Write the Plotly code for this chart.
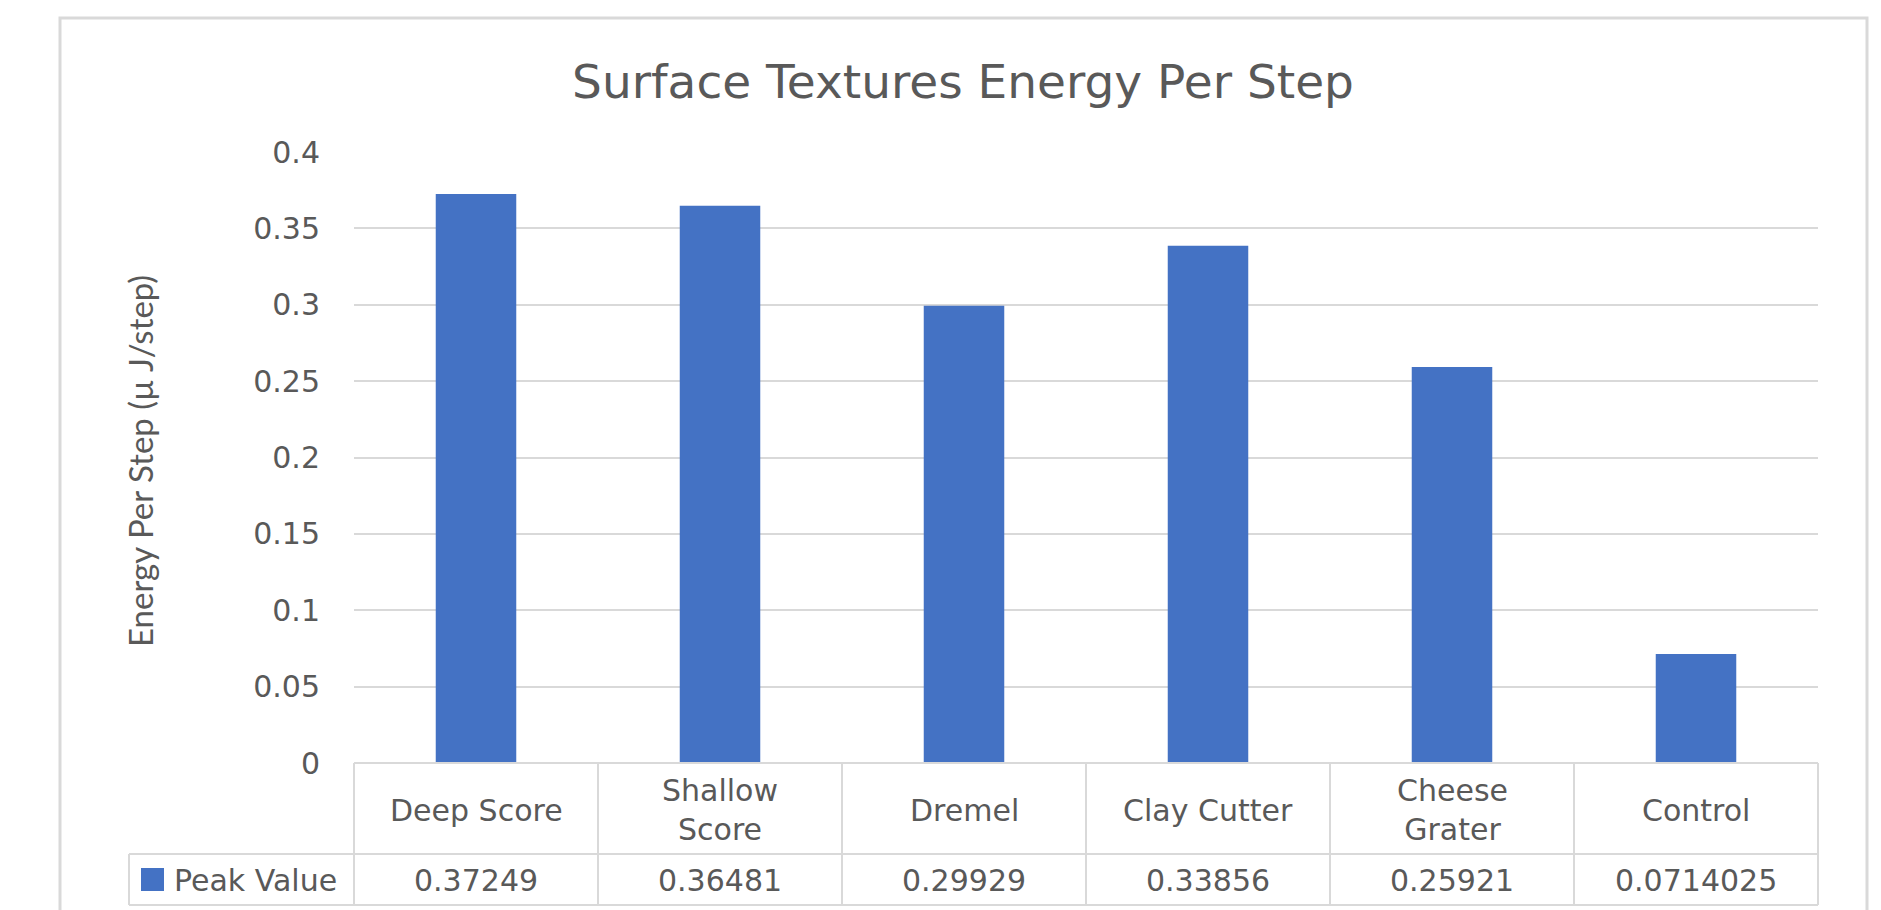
import plotly.graph_objects as go

# ---- data ----
categories = ["Deep Score", "Shallow Score", "Dremel", "Clay Cutter", "Cheese Grater", "Control"]
category_labels = ["Deep Score", "Shallow<br>Score", "Dremel", "Clay Cutter", "Cheese<br>Grater", "Control"]
peak_values = [0.37249, 0.36481, 0.29929, 0.33856, 0.25921, 0.0714025]
series_name = "Peak Value"
y_ticks = [0, 0.05, 0.1, 0.15, 0.2, 0.25, 0.3, 0.35, 0.4]
title_text = "Surface Textures Energy Per Step"
y_title = "Energy Per Step (µ J/step)"

# ---- layout geometry (pixels) ----
FIG_W, FIG_H = 1881, 910
L, R_EDGE = 354, 1818
T, B_EDGE = 152, 763
W = R_EDGE - L
H = B_EDGE - T

def px_x(p):
    return (p - L) / W

def px_y(p):
    return (B_EDGE - p) / H

BLUE = "#4472C4"
TXT = "#595959"
GRID = "#D9D9D9"
FONT = "DejaVu Sans, Verdana, sans-serif"
FS = 30

fig = go.Figure()
fig.add_trace(go.Bar(
    x=categories, y=peak_values, name=series_name,
    marker=dict(color=BLUE, line=dict(width=0)),
    showlegend=False, hoverinfo="x+y",
))

shapes = []
line_style = dict(color=GRID, width=2)
# outer chart border
shapes.append(dict(type="rect", xref="paper", yref="paper",
                   x0=px_x(60), x1=px_x(1867), y0=px_y(930), y1=px_y(18),
                   line=dict(color="#D9D9D9", width=3), fillcolor="rgba(0,0,0,0)", layer="below"))
# table horizontal lines
row_top, row_mid, row_bot = 763, 854, 905
legend_left = 129
shapes.append(dict(type="line", xref="paper", yref="paper",
                   x0=0, x1=1, y0=px_y(row_top), y1=px_y(row_top), line=line_style))
for yy in (row_mid, row_bot):
    shapes.append(dict(type="line", xref="paper", yref="paper",
                       x0=px_x(legend_left), x1=1, y0=px_y(yy), y1=px_y(yy), line=line_style))
# table vertical lines at category boundaries
n = len(categories)
for i in range(n + 1):
    shapes.append(dict(type="line", xref="paper", yref="paper",
                       x0=i / n, x1=i / n, y0=px_y(row_top), y1=px_y(row_bot), line=line_style))
shapes.append(dict(type="line", xref="paper", yref="paper",
                   x0=px_x(legend_left), x1=px_x(legend_left), y0=px_y(row_mid), y1=px_y(row_bot),
                   line=line_style))
# legend key square
shapes.append(dict(type="rect", xref="paper", yref="paper",
                   x0=px_x(141), x1=px_x(164), y0=px_y(891), y1=px_y(868),
                   fillcolor=BLUE, line=dict(width=0)))

annotations = []
for cat, lab, val in zip(categories, category_labels, peak_values):
    annotations.append(dict(x=cat, xref="x", y=px_y(810), yref="paper", text=lab,
                            showarrow=False, xanchor="center", yanchor="middle",
                            font=dict(family=FONT, size=FS, color=TXT)))
    annotations.append(dict(x=cat, xref="x", y=px_y(880), yref="paper", text=f"{val:g}",
                            showarrow=False, xanchor="center", yanchor="middle",
                            font=dict(family=FONT, size=FS, color=TXT)))
annotations.append(dict(x=px_x(172), xref="paper", y=px_y(880), yref="paper", text=series_name,
                        showarrow=False, xanchor="left", yanchor="middle",
                        font=dict(family=FONT, size=FS, color=TXT)))
annotations.append(dict(x=px_x(140), xref="paper", y=px_y(461), yref="paper", text=y_title,
                        showarrow=False, xanchor="center", yanchor="middle", textangle=-90,
                        font=dict(family="Lato, Carlito, sans-serif", size=33, color=TXT)))

fig.update_layout(
    width=FIG_W, height=FIG_H,
    margin=dict(l=L, r=FIG_W - R_EDGE, t=T, b=FIG_H - B_EDGE, pad=0),
    paper_bgcolor="white", plot_bgcolor="white",
    bargap=0.67,
    title=dict(text=title_text, x=963 / FIG_W, xref="container", xanchor="center",
               y=1 - 82 / FIG_H, yref="container", yanchor="middle",
               font=dict(family=FONT, size=47, color=TXT)),
    xaxis=dict(showticklabels=False, showgrid=False, zeroline=False, showline=False,
               ticks="", range=[-0.5, n - 0.5], fixedrange=True),
    yaxis=dict(range=[0, 0.4], tickvals=y_ticks, showgrid=True, gridcolor=GRID, gridwidth=2,
               zeroline=False, showline=False, ticks="", ticklabelstandoff=33,
               tickfont=dict(family=FONT, size=FS, color=TXT), fixedrange=True),
    shapes=shapes, annotations=annotations,
    showlegend=False,
)

fig.write_html("out.html")
